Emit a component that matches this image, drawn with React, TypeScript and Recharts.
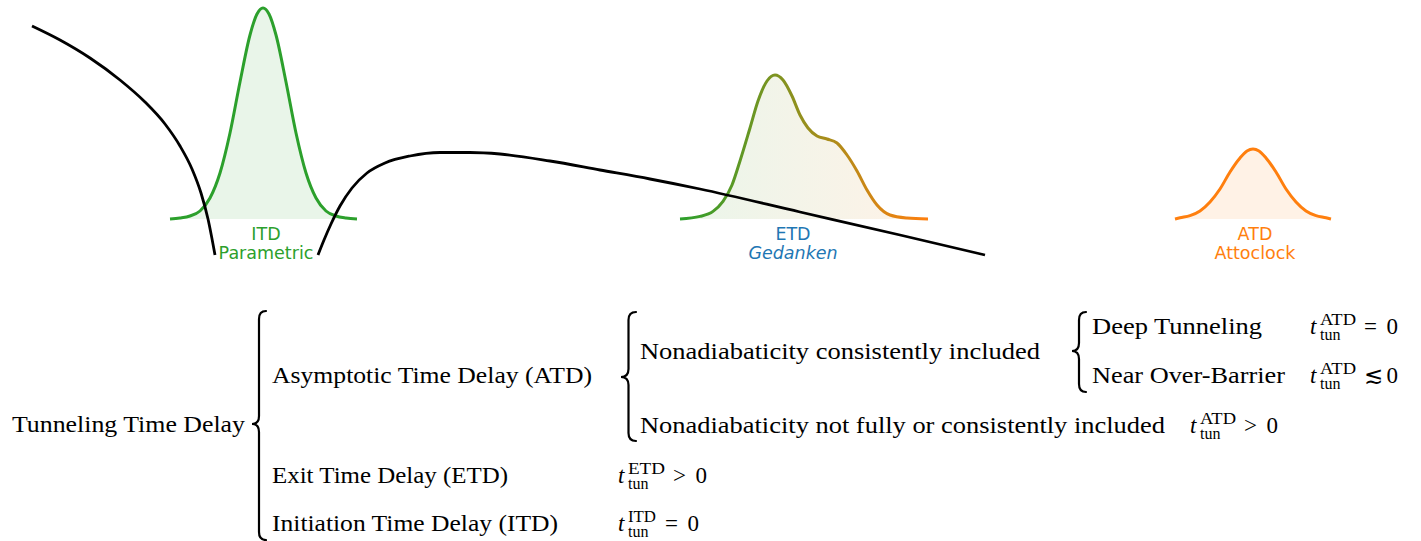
import React from 'react';
import { ComposedChart, Area, Line, XAxis, YAxis, ReferenceDot } from 'recharts';

// x: position along the laser polarisation (arb. units), y: energy above the bound level (arb. units)
const barrierLeft = [
  { x: 3.2, y: 19.3 }, { x: 6.0, y: 17.9 }, { x: 9.0, y: 16.1 }, { x: 12.0, y: 13.9 },
  { x: 14.5, y: 11.7 }, { x: 16.5, y: 9.5 }, { x: 18.0, y: 7.3 }, { x: 19.2, y: 5.0 },
  { x: 20.1, y: 2.6 }, { x: 20.8, y: 0.0 }, { x: 21.5, y: -3.6 },
];

const barrierRight = [
  { x: 31.8, y: -3.6 }, { x: 32.4, y: -2.1 }, { x: 33.1, y: -0.5 }, { x: 34.0, y: 1.3 },
  { x: 35.2, y: 3.1 }, { x: 36.7, y: 4.6 }, { x: 38.5, y: 5.6 }, { x: 41.0, y: 6.3 },
  { x: 44.0, y: 6.65 }, { x: 47.0, y: 6.65 }, { x: 50.0, y: 6.5 }, { x: 55.0, y: 5.8 },
  { x: 60.0, y: 4.9 }, { x: 65.0, y: 4.0 }, { x: 70.0, y: 3.0 }, { x: 80.0, y: 0.7 },
  { x: 90.0, y: -1.6 }, { x: 98.5, y: -3.6 },
];

const itdPacket = [
  { x: 17.0, y: 0.0 }, { x: 18.0, y: 0.1 }, { x: 19.0, y: 0.3 }, { x: 20.0, y: 0.8 },
  { x: 21.0, y: 2.1 }, { x: 22.0, y: 4.6 }, { x: 23.0, y: 8.6 }, { x: 24.0, y: 13.7 },
  { x: 25.0, y: 18.4 }, { x: 25.7, y: 20.5 }, { x: 26.3, y: 21.1 }, { x: 26.9, y: 20.5 },
  { x: 27.6, y: 18.4 }, { x: 28.6, y: 13.7 }, { x: 29.6, y: 8.6 }, { x: 30.6, y: 4.6 },
  { x: 31.6, y: 2.1 }, { x: 32.6, y: 0.8 }, { x: 33.6, y: 0.3 }, { x: 34.6, y: 0.1 },
  { x: 35.7, y: 0.0 },
];

const etdPacket = [
  { x: 68.0, y: 0.0 }, { x: 70.0, y: 0.26 }, { x: 71.3, y: 0.76 }, { x: 72.3, y: 1.76 },
  { x: 73.2, y: 3.4 }, { x: 74.0, y: 5.8 }, { x: 75.0, y: 9.1 }, { x: 75.8, y: 11.8 },
  { x: 76.7, y: 13.8 }, { x: 77.5, y: 14.4 }, { x: 78.3, y: 13.9 }, { x: 79.2, y: 12.3 },
  { x: 80.0, y: 10.4 }, { x: 80.8, y: 9.1 }, { x: 81.7, y: 8.3 }, { x: 82.7, y: 8.0 },
  { x: 83.7, y: 7.6 }, { x: 84.7, y: 6.4 }, { x: 85.7, y: 4.8 }, { x: 86.7, y: 2.9 },
  { x: 87.7, y: 1.4 }, { x: 89.0, y: 0.4 }, { x: 90.7, y: 0.1 }, { x: 92.8, y: 0.0 },
];

const atdPacket = [
  { x: 117.5, y: 0.0 }, { x: 118.0, y: 0.12 }, { x: 119.0, y: 0.33 }, { x: 120.0, y: 0.8 },
  { x: 121.0, y: 1.7 }, { x: 122.0, y: 3.0 }, { x: 123.0, y: 4.7 }, { x: 124.0, y: 6.1 },
  { x: 124.7, y: 6.8 }, { x: 125.3, y: 7.0 }, { x: 125.9, y: 6.8 }, { x: 126.6, y: 6.1 },
  { x: 127.6, y: 4.7 }, { x: 128.6, y: 3.0 }, { x: 129.6, y: 1.7 }, { x: 130.6, y: 0.8 },
  { x: 131.6, y: 0.33 }, { x: 132.6, y: 0.12 }, { x: 133.1, y: 0.0 },
];

const packetLabels = [
  { name: 'ITD', method: 'Parametric', x: 26.6, color: '#2ca02c', italic: false },
  { name: 'ETD', method: 'Gedanken', x: 79.3, color: '#1f77b4', italic: true },
  { name: 'ATD', method: 'Attoclock', x: 125.5, color: '#ff7f0e', italic: false },
];

// classification tree text
const treeTexts = [
  { t: 'Tunneling Time Delay', x: 12, y: 432, w: 233 },
  { t: 'Asymptotic Time Delay (ATD)', x: 272, y: 383, w: 320 },
  { t: 'Exit Time Delay (ETD)', x: 272, y: 483, w: 236 },
  { t: 'Initiation Time Delay (ITD)', x: 272, y: 531, w: 286 },
  { t: 'Nonadiabaticity consistently included', x: 640, y: 359, w: 400 },
  { t: 'Nonadiabaticity not fully or consistently included', x: 640, y: 433, w: 525 },
  { t: 'Deep Tunneling', x: 1092, y: 334, w: 170 },
  { t: 'Near Over-Barrier', x: 1092, y: 383, w: 193 },
];

const treeMath = [
  { sup: 'ATD', rel: '= 0', x: 1310, y: 334, supW: 36, relX: 54 },
  { sup: 'ATD', rel: '\u2272 0', x: 1310, y: 383, supW: 36, relX: 54 },
  { sup: 'ATD', rel: '> 0', x: 1190, y: 433, supW: 36, relX: 54 },
  { sup: 'ETD', rel: '> 0', x: 618, y: 483, supW: 37, relX: 55 },
  { sup: 'ITD', rel: '= 0', x: 618, y: 531, supW: 28, relX: 47 },
];

const braces = [
  { tip: 252, right: 266, top: 311, mid: 424, bottom: 540 },
  { tip: 621, right: 636, top: 312, mid: 377, bottom: 441 },
  { tip: 1072, right: 1086, top: 312, mid: 351, bottom: 392 },
];

const serif = '"Liberation Serif", "Times New Roman", serif';

function bracePath(b: { tip: number; right: number; top: number; mid: number; bottom: number }) {
  const xm = (b.tip + b.right) / 2;
  const r = 8;
  return `M${b.right},${b.top} Q${xm},${b.top} ${xm},${b.top + r} L${xm},${b.mid - r} Q${xm},${b.mid} ${b.tip},${b.mid} Q${xm},${b.mid} ${xm},${b.mid + r} L${xm},${b.bottom - r} Q${xm},${b.bottom} ${b.right},${b.bottom}`;
}

function PacketLabel(props: any) {
  const { cx, cy, lab } = props;
  return (
    <g fontFamily='"DejaVu Sans", sans-serif' fontSize={17.5} fill={lab.color} textAnchor="middle">
      <text x={cx} y={cy}>{lab.name}</text>
      <text x={cx} y={cy + 19} fontStyle={lab.italic ? 'italic' : 'normal'}>{lab.method}</text>
    </g>
  );
}

export default function App() {
  return (
    <div style={{ position: 'absolute', left: 0, top: 0, width: 1421, height: 541, background: '#fff' }}>
      <ComposedChart width={1421} height={270} margin={{ top: 0, right: 0, bottom: 0, left: 0 }}>
        <defs>
          <linearGradient id="etdStroke" x1="0" y1="0" x2="1" y2="0">
            <stop offset="0%" stopColor="#2ca02c" />
            <stop offset="100%" stopColor="#ff7f0e" />
          </linearGradient>
          <linearGradient id="etdFill" x1="0" y1="0" x2="1" y2="0">
            <stop offset="0%" stopColor="#2ca02c" stopOpacity={0.1} />
            <stop offset="100%" stopColor="#ff7f0e" stopOpacity={0.1} />
          </linearGradient>
        </defs>
        <XAxis type="number" dataKey="x" domain={[0, 142.1]} hide allowDataOverflow />
        <YAxis type="number" dataKey="y" domain={[-5.1, 21.9]} hide allowDataOverflow />
        <Area data={itdPacket} dataKey="y" type="monotone" stroke="#2ca02c" strokeWidth={3}
          fill="#2ca02c" fillOpacity={0.1} isAnimationActive={false} dot={false} activeDot={false} />
        <Area data={etdPacket} dataKey="y" type="monotone" stroke="url(#etdStroke)" strokeWidth={3}
          fill="url(#etdFill)" fillOpacity={1} isAnimationActive={false} dot={false} activeDot={false} />
        <Area data={atdPacket} dataKey="y" type="monotone" stroke="#ff7f0e" strokeWidth={3}
          fill="#ff7f0e" fillOpacity={0.1} isAnimationActive={false} dot={false} activeDot={false} />
        <Line data={barrierLeft} dataKey="y" type="monotone" stroke="#000" strokeWidth={2.8}
          dot={false} activeDot={false} isAnimationActive={false} />
        <Line data={barrierRight} dataKey="y" type="monotone" stroke="#000" strokeWidth={2.8}
          dot={false} activeDot={false} isAnimationActive={false} />
        {packetLabels.map((lab) => (
          <ReferenceDot key={lab.name} x={lab.x} y={-2.1} r={0} ifOverflow="visible"
            shape={(p: any) => <PacketLabel {...p} lab={lab} />} />
        ))}
      </ComposedChart>
      <svg width={1421} height={541} style={{ position: 'absolute', left: 0, top: 0, pointerEvents: 'none' }}>
        {braces.map((b, i) => (
          <path key={i} d={bracePath(b)} fill="none" stroke="#000" strokeWidth={2.2} strokeLinecap="round" />
        ))}
        {treeTexts.map((t) => (
          <text key={t.t} x={t.x} y={t.y} fontFamily={serif} fontSize={23} fill="#000"
            textLength={t.w} lengthAdjust="spacingAndGlyphs">{t.t}</text>
        ))}
        {treeMath.map((m, i) => (
          <g key={i} fontFamily={serif} fill="#000">
            <text x={m.x} y={m.y} fontSize={23} fontStyle="italic">t</text>
            <text x={m.x + 10} y={m.y - 9} fontSize={16} textLength={m.supW} lengthAdjust="spacingAndGlyphs">{m.sup}</text>
            <text x={m.x + 10} y={m.y + 6} fontSize={16}>tun</text>
            <text x={m.x + m.relX} y={m.y} fontSize={23} textLength={m.rel.length === 3 ? 34 : undefined}
              lengthAdjust="spacing">{m.rel}</text>
          </g>
        ))}
      </svg>
    </div>
  );
}
